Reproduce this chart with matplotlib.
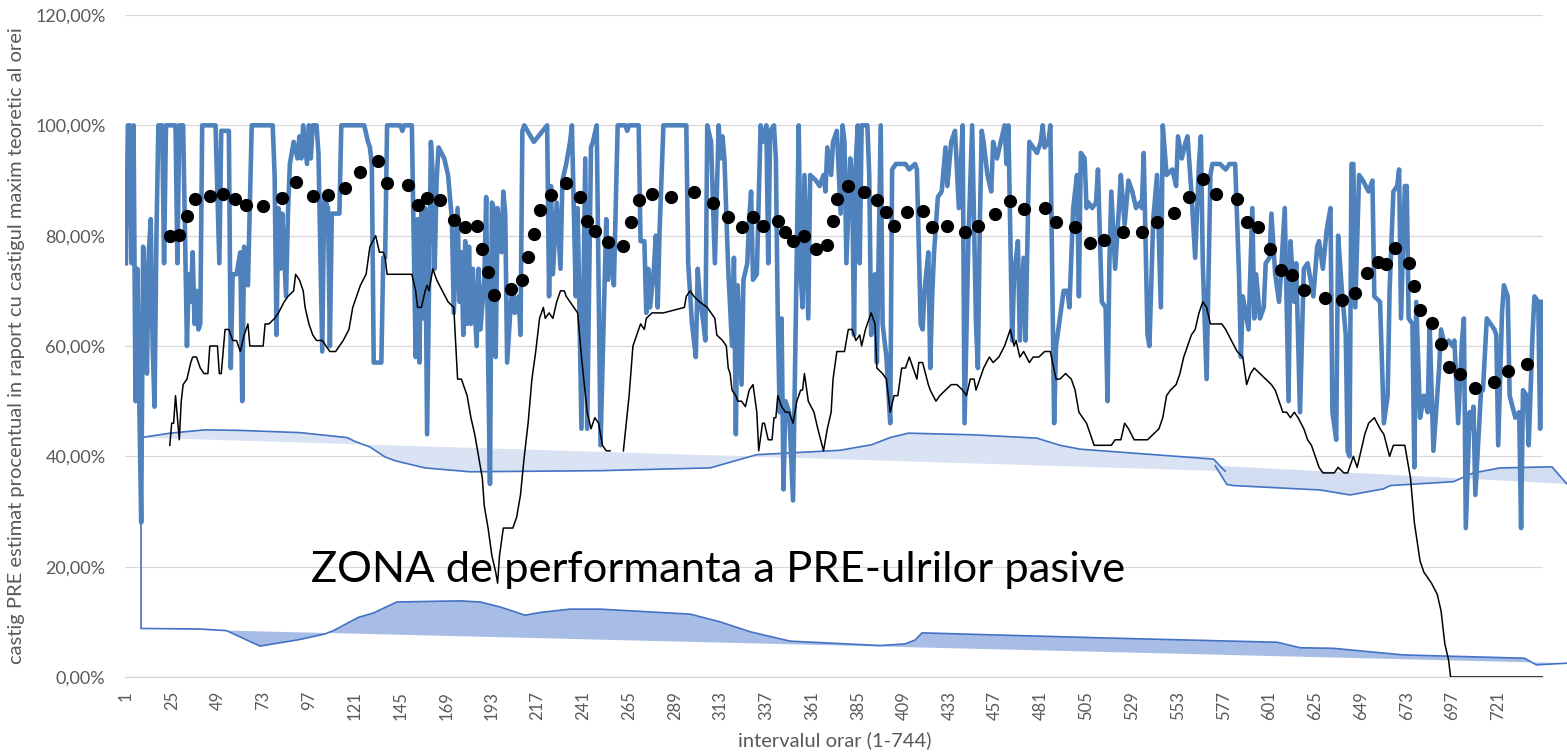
import numpy as np
import matplotlib
matplotlib.use("Agg")
import matplotlib.pyplot as plt
from matplotlib.ticker import FuncFormatter

plt.rcParams['font.family'] = ['Lato', 'DejaVu Sans']

# castig PRE (hour, %) - thick blue series
blue = [
    (1, 75), (2, 100), (3, 100), (4, 75), (5, 100), (6, 50), (7, 74), (8, 50), (9, 28), (10, 78),
    (11, 72), (12, 55), (13, 77), (14, 83), (15, 60), (16, 49), (17, 80), (18, 100), (20, 100), (21, 75),
    (22, 100), (27, 100), (28, 75), (29, 100), (31, 100), (33, 60), (34, 73), (35, 68), (36, 77), (37, 64),
    (38, 70), (39, 63), (40, 64), (41, 100), (48, 100), (50, 75), (51, 99), (55, 99), (56, 56), (57, 73),
    (59, 73), (61, 77), (62, 50), (63, 78), (64, 72), (65, 71), (67, 100), (78, 100), (79, 91), (80, 62),
    (81, 85), (82, 74), (83, 84), (85, 69), (86, 84), (87, 93), (89, 97), (91, 94), (92, 98), (93, 94),
    (94, 100), (96, 93), (97, 100), (98, 94), (99, 100), (101, 100), (102, 95), (104, 59), (105, 87), (106, 86),
    (107, 85), (108, 60), (109, 84), (111, 84), (113, 84), (114, 100), (124, 100),
    (126, 100), (128, 97), (129, 96), (130, 93), (131, 57), (133, 57), (135, 57), (136, 76), (137, 76), (138, 100),
    (145, 100), (146, 99), (147, 100), (151, 100), (153, 58), (154, 83), (155, 57), (156, 85), (157, 65), (158, 85),
    (159, 44), (161, 97), (162, 91), (163, 74), (164, 90), (165, 96), (168, 94), (170, 91), (172, 83), (173, 66),
    (175, 85), (176, 68), (177, 77), (178, 62), (179, 79), (180, 64), (181, 78), (182, 64), (183, 74), (185, 60),
    (186, 74), (187, 63), (189, 72), (190, 87), (191, 58), (192, 35), (193, 86), (194, 85), (195, 58), (196, 85),
    (198, 77), (199, 88), (200, 84), (201, 57), (203, 68), (204, 71), (205, 66), (207, 69), (208, 62), (209, 99),
    (210, 100), (215, 97), (222, 100), (223, 69), (224, 89), (225, 73), (227, 86), (229, 74), (230, 90), (232, 93),
    (234, 97), (235, 100), (237, 69), (238, 85), (240, 45), (242, 94), (243, 45), (245, 96), (246, 97), (248, 100),
    (250, 42), (253, 83), (254, 72), (256, 78), (257, 71), (259, 100), (263, 100), (264, 99), (265, 100), (270, 100),
    (271, 79), (273, 79), (274, 66), (275, 74), (276, 67), (278, 74), (279, 80), (280, 67), (281, 81), (283, 100),
    (295, 100), (296, 75), (298, 64), (300, 58), (301, 74), (302, 69), (304, 64), (305, 61), (306, 100), (308, 97),
    (310, 75), (312, 100), (313, 94), (314, 98), (315, 94), (317, 74), (319, 60), (320, 76), (321, 44), (322, 71),
    (324, 53), (325, 72), (327, 75), (328, 83), (329, 88), (330, 72), (332, 73), (334, 100), (335, 97), (337, 100),
    (338, 75), (339, 99), (341, 100), (342, 94), (343, 65), (344, 48), (345, 65), (346, 34), (347, 50), (349, 48),
    (351, 32), (352, 55), (354, 100), (355, 73), (356, 67), (357, 91), (358, 78), (359, 65), (360, 91), (363, 90),
    (365, 89), (367, 91), (368, 88), (369, 96), (371, 91), (372, 97), (374, 99), (376, 84),
    (377, 100), (378, 97), (379, 75), (381, 94), (382, 91), (383, 62), (384, 94), (385, 100), (386, 75), (387, 100),
    (390, 100), (391, 91), (392, 62), (394, 73), (395, 57), (397, 100), (398, 64), (400, 58), (402, 46), (403, 92),
    (405, 93), (407, 93), (410, 93), (412, 92), (415, 93), (416, 92), (418, 64), (419, 63), (420, 70), (422, 77),
    (423, 56), (424, 69), (425, 77), (427, 87), (429, 88), (431, 96), (432, 89), (434, 97), (436, 99), (438, 85),
    (440, 100), (441, 46), (443, 79), (445, 100), (447, 64), (448, 56), (449, 82), (450, 99), (451, 97), (453, 91),
    (455, 88), (456, 97), (458, 94), (460, 97), (462, 100), (463, 93), (464, 100), (466, 61), (467, 73), (469, 79),
    (470, 61), (472, 76), (473, 61), (475, 97), (477, 96), (479, 95), (481, 97), (482, 100), (483, 96), (485, 97),
    (486, 100), (488, 46), (489, 60), (491, 65), (493, 70), (495, 70), (496, 67), (498, 85), (500, 91), (501, 69),
    (502, 95), (504, 94), (505, 85), (506, 86), (508, 85), (510, 86), (511, 92), (513, 68), (515, 67), (516, 50),
    (517, 75), (518, 88), (520, 74), (522, 85), (523, 91), (525, 82), (527, 90), (529, 88), (531, 85), (533, 86),
    (534, 85), (535, 95), (537, 62), (538, 60), (540, 83), (542, 91), (544, 67), (545, 100), (547, 91), (550, 92),
    (552, 89), (553, 98), (555, 94), (557, 97), (558, 98), (560, 88), (562, 76), (564, 93), (565, 98), (566, 75),
    (568, 54), (570, 91), (571, 93), (575, 93), (578, 92), (580, 93), (583, 93), (585, 73), (586, 58), (587, 69),
    (589, 65), (590, 63), (592, 85), (593, 65), (594, 73), (596, 65), (598, 67), (599, 75), (601, 76), (602, 84),
    (604, 73), (606, 68), (607, 73), (609, 85), (611, 50), (612, 79), (614, 68), (615, 75), (617, 48), (619, 74),
    (621, 75), (622, 73), (624, 69), (626, 78), (627, 79),
    (629, 74), (631, 81), (633, 85), (634, 48), (636, 43), (637, 80), (639, 70), (641, 62), (642, 41), (643, 40),
    (644, 93), (645, 93), (646, 67), (648, 91), (650, 90), (653, 88), (655, 90), (656, 69), (659, 68), (661, 46),
    (663, 51), (664, 70), (666, 88), (668, 89), (669, 92), (670, 65), (672, 89), (673, 89), (674, 65), (676, 64),
    (677, 38), (678, 68), (680, 47), (682, 51), (684, 48), (685, 64), (687, 41), (690, 56), (691, 63), (693, 60),
    (695, 61), (697, 60), (698, 61), (700, 46), (702, 61), (703, 65), (704, 27), (706, 48), (707, 45), (708, 49),
    (709, 33), (712, 52), (713, 52), (715, 65), (717, 64), (719, 63), (720, 62), (721, 42), (723, 66), (724, 71),
    (726, 69), (727, 51), (730, 47), (732, 48), (733, 27), (734, 52), (736, 51), (737, 42), (739, 62), (740, 69),
    (742, 68), (743, 45), (744, 68),
]

# thin black series (hour, %); None = missing
black = [
    (24, 42), (25, 46), (26, 46), (27, 51), (29, 43), (30, 50), (31, 53), (33, 54), (35, 57), (36, 58),
    (38, 58), (40, 56), (42, 55), (44, 55), (45, 60), (49, 60), (50, 55), (51, 55), (53, 63), (55, 63),
    (57, 61), (59, 61), (61, 59), (63, 62), (65, 64), (66, 60), (73, 60), (74, 64), (76, 64), (79, 65),
    (81, 66), (84, 68), (86, 69), (89, 70), (90, 73), (92, 72), (94, 70), (95, 67), (97, 64), (99, 62),
    (101, 61), (104, 61), (106, 60), (108, 59), (111, 59), (113, 60), (115, 61), (118, 63), (120, 67), (122, 69),
    (124, 71), (127, 73), (129, 78), (132, 80), (134, 77), (136, 77), (137, 76), (138, 73), (151, 73), (153, 70),
    (154, 67), (156, 67), (158, 70), (159, 71), (160, 70), (162, 74), (164, 72), (167, 70), (170, 68), (173, 67),
    (175, 54), (177, 54), (180, 51), (182, 47), (184, 44), (186, 40), (188, 36), (189, 31), (191, 27), (193, 22),
    (195, 19), (196, 17), (197, 22), (199, 27), (204, 27), (206, 29), (208, 33), (210, 40), (212, 46), (214, 54),
    (216, 59), (218, 65), (220, 67), (221, 65), (223, 66), (225, 65), (227, 68), (229, 70), (231, 70), (232, 69),
    (234, 68), (236, 67), (238, 66), (240, 58), (243, 48), (245, 45), (247, 47), (249, 46), (251, 42), (253, 41),
    (255, 41), (258, None), (262, 41), (265, 51), (267, 60), (269, 62), (271, 64), (273, 63), (274, 65), (277, 66),
    (279, 66), (283, 66), (294, 67), (295, 69), (297, 70), (299, 69), (302, 68), (306, 67), (308, 66), (310, 65),
    (311, 62), (314, 61), (316, 60), (317, 56), (318, 55), (319, 52), (321, 51), (322, 50), (324, 50), (326, 49),
    (328, 52), (330, 53), (332, 48), (333, 41), (335, 46), (336, 46), (338, 43), (340, 43), (341, 47), (342, 47),
    (343, 51), (345, 49), (347, 48), (349, 48), (351, 46), (353, 50), (355, 52), (356, 52), (357, 55), (359, 50),
    (362, 48), (364, 45), (367, 41), (368, 43), (369, 45), (371, 48), (372, 54), (374, 59), (376, 59), (378, 59),
    (380, 63), (382, 63), (384, 61), (386, 62), (387, 60), (389, 63), (392, 66), (394, 64), (395, 56), (398, 55),
    (400, 54), (402, 48), (404, 51), (406, 51), (408, 56), (410, 56), (412, 58), (414, 56), (416, 54), (417, 57),
    (419, 57), (422, 53), (423, 52), (426, 50), (428, 51), (431, 52), (434, 53), (437, 53), (440, 52), (442, 51),
    (444, 54), (446, 54), (447, 52), (449, 54), (451, 56), (454, 58), (456, 57), (459, 58), (462, 60), (463, 61),
    (465, 63), (467, 60), (468, 61), (470, 58), (472, 59), (475, 57), (477, 58), (480, 58), (483, 59), (486, 59),
    (489, 54), (491, 54), (494, 55), (497, 54), (499, 52), (501, 48), (503, 47), (505, 46), (507, 44), (509, 42),
    (511, 42), (513, 42), (515, 42), (518, 42), (520, 43), (523, 43), (525, 46), (527, 45), (530, 43), (534, 43),
    (537, 43), (540, 44), (543, 45), (545, 47), (547, 51), (549, 52), (552, 53), (554, 55), (556, 58), (558, 60),
    (560, 62), (562, 63), (564, 66), (566, 68), (568, 67), (570, 64), (573, 64), (576, 64), (578, 63), (581, 61),
    (584, 59), (587, 58), (589, 53), (591, 55), (593, 56), (596, 55), (599, 54), (602, 53), (604, 52), (606, 50),
    (608, 48), (610, 48), (612, 47), (614, 48), (616, 47), (619, 45), (621, 43), (623, 42), (625, 40), (627, 38),
    (629, 37), (632, 37), (635, 37), (637, 38), (640, 37), (642, 37), (645, 40), (647, 38), (649, 41), (651, 44),
    (653, 46), (656, 47), (659, 45), (661, 44), (664, 40), (666, 42), (669, 42), (672, 42), (675, 36), (677, 28),
    (680, 21), (682, 19), (684, 18), (686, 17), (689, 15), (691, 12), (693, 6), (695, 3), (696, 0), (744, 0),
]

# black dots (hour, %)
dots = [
    (24, 80.0), (29, 80.2), (33, 83.5), (37, 86.7), (45, 87.1), (52, 87.5), (58, 86.7), (64, 85.5), (73, 85.3), (83, 86.8),
    (90, 89.8), (99, 87.2), (107, 87.3), (116, 88.7), (124, 91.5), (133, 93.5), (138, 89.6), (149, 89.1), (154, 85.5), (159, 86.8),
    (166, 86.4), (173, 82.9), (179, 81.5), (185, 81.8), (188, 77.6), (191, 73.4), (194, 69.3), (203, 70.4), (209, 71.9), (212, 76.2),
    (215, 80.3), (218, 84.6), (224, 87.3), (232, 89.6), (239, 87.0), (243, 82.7), (247, 80.8), (254, 78.8), (262, 78.2), (266, 82.5),
    (270, 86.4), (277, 87.6), (287, 87.0), (299, 87.9), (309, 86.0), (317, 83.4), (324, 81.6), (330, 83.3), (335, 81.7), (343, 82.6),
    (347, 80.7), (351, 79.0), (357, 79.9), (363, 77.6), (369, 78.3), (372, 82.6), (374, 86.7), (380, 89.0), (388, 87.9), (395, 86.5),
    (400, 84.3), (404, 81.7), (411, 84.2), (419, 84.5), (424, 81.6), (432, 81.8), (441, 80.6), (448, 81.8), (457, 83.9), (465, 86.2),
    (472, 84.8), (483, 85.0), (489, 82.4), (499, 81.6), (507, 78.7), (514, 79.2), (524, 80.7), (534, 80.7), (542, 82.5), (551, 84.1),
    (559, 87.0), (566, 90.3), (573, 87.5), (584, 86.6), (589, 82.5), (595, 81.6), (601, 77.6), (607, 73.8), (613, 72.8), (619, 70.2),
    (630, 68.7), (639, 68.4), (646, 69.6), (652, 73.2), (658, 75.2), (662, 74.9), (667, 77.8), (674, 75.0), (677, 70.8), (680, 66.5),
    (686, 64.1), (691, 60.4), (695, 56.2), (701, 55.0), (709, 52.4), (719, 53.5), (726, 55.5), (736, 56.8),
]

# hand-drawn performance zone shapes (hour, %)
zone_top_1 = [
    (8.9, 43.4), (24.1, 44.2), (42.5, 44.8), (60.8, 44.7), (92.3, 44.3), (117, 43.4), (121.2, 42.7), (129, 41.7),
    (136.9, 39.9), (142.2, 39.2), (157.9, 37.9), (181.5, 37.2), (249.7, 37.4), (307.5, 37.9), (332, 40.3),
    (375.7, 41.1), (392.3, 42.1), (401.9, 43.4), (411.5, 44.2), (445.6, 43.9), (478.9, 43.3), (491.1, 42.0),
    (501.6, 41.3), (571.6, 39.5), (577.7, 37.3),
]
zone_top_2 = [
    (572.5, 38.3), (578.6, 34.9), (582.1, 34.7), (627.6, 33.9), (643.3, 33.0), (660.8, 34.1), (664.3, 34.7),
    (697.5, 35.4), (708, 37.0), (722, 37.9), (749.2, 38.1), (757, 35.0),
]
zone_low = [
    (8.9, 8.8), (39.8, 8.7), (53.8, 8.4), (71.3, 5.6), (92.3, 6.8), (105.4, 7.8), (109.8, 8.4), (118.5, 10.0),
    (122.9, 10.8), (130.8, 11.6), (143.1, 13.6), (176.3, 13.8), (186.8, 13.6), (197.3, 12.7), (210.4, 11.2),
    (218.3, 11.7), (234, 12.3), (249.7, 12.3), (297, 11.4), (312.7, 10.0), (328.5, 8.2), (349.4, 6.5),
    (396.7, 5.7), (409.8, 6.0), (415, 6.7), (418.7, 8.0), (459.6, 7.6), (512.1, 7.1), (605, 6.3), (617.1, 5.3),
    (634.4, 5.2), (671.3, 4.0), (734.8, 3.4), (741, 2.2), (756.8, 2.5),
]
zone_low_start = 43.4

xticks = list(range(1, 745, 24))
yticks = [0, 20, 40, 60, 80, 100, 120]

blue_h, blue_v = zip(*blue)
black_h = [p[0] for p in black]
black_v = [np.nan if p[1] is None else p[1] for p in black]
dots_h, dots_v = zip(*dots)

fig = plt.figure(figsize=(15.67, 7.52), dpi=100)
ax = fig.add_axes([125 / 1567, 75 / 752, 1418 / 1567, 662 / 752])

grey = '#595959'
edge = '#4472C4'

ax.plot(blue_h, blue_v, color='#4F81BD', lw=3.3, solid_joinstyle='round', zorder=3)
ax.plot(black_h, black_v, color='black', lw=1.1, zorder=4)
ax.plot(dots_h, dots_v, 'o', color='black', ms=8.5, zorder=5)

# performance zone shapes (freeform: fill closes with a straight chord)
for shape, fc in [(zone_top_1, '#DAE3F3'), (zone_top_2, '#D3DDF1')]:
    sh, sv = zip(*shape)
    ax.fill(sh, sv, color=fc, lw=0, zorder=2, clip_on=False)
    ax.plot(sh, sv, color=edge, lw=1.2, zorder=2.5, clip_on=False)
lh, lv = zip(*zone_low)
ax.fill(lh, lv, color='#A8BDE6', lw=0, zorder=2, clip_on=False)
ax.plot([lh[0]] + list(lh), [zone_low_start] + list(lv), color=edge, lw=1.2, zorder=2.5, clip_on=False)

ax.set_xlim(0.5, 744.5)
ax.set_ylim(0, 120)
ax.set_xticks(xticks)
ax.set_xticklabels([str(t) for t in xticks], rotation=90, fontsize=12, color=grey)
ax.set_yticks(yticks)
ax.yaxis.set_major_formatter(FuncFormatter(lambda v, p: f"{v:.2f}".replace('.', ',') + '%'))
ax.tick_params(axis='y', labelsize=13, labelcolor=grey, length=0, pad=14)
ax.tick_params(axis='x', length=0, pad=10)
ax.grid(axis='y', color='#D9D9D9', lw=0.9)
ax.set_axisbelow(True)
for s in ['top', 'right', 'left']:
    ax.spines[s].set_visible(False)
ax.spines['bottom'].set_color('#D9D9D9')
ax.spines['bottom'].set_linewidth(0.9)

fig.text(17 / 1567, 1 - 346 / 752, 'castig PRE estimat procentual in raport cu castigul maxim teoretic al orei',
         rotation=90, ha='center', va='center', fontsize=14.5, color=grey)
fig.text(835 / 1567, 1 - 740 / 752, 'intervalul orar (1-744)', ha='center', va='center', fontsize=14.5, color=grey)
fig.text(311 / 1567, 1 - 582 / 752, 'ZONA de performanta a PRE-ulrilor pasive', ha='left', va='baseline',
         fontsize=31.3, color='black')

fig.savefig('out.png', dpi=100)
